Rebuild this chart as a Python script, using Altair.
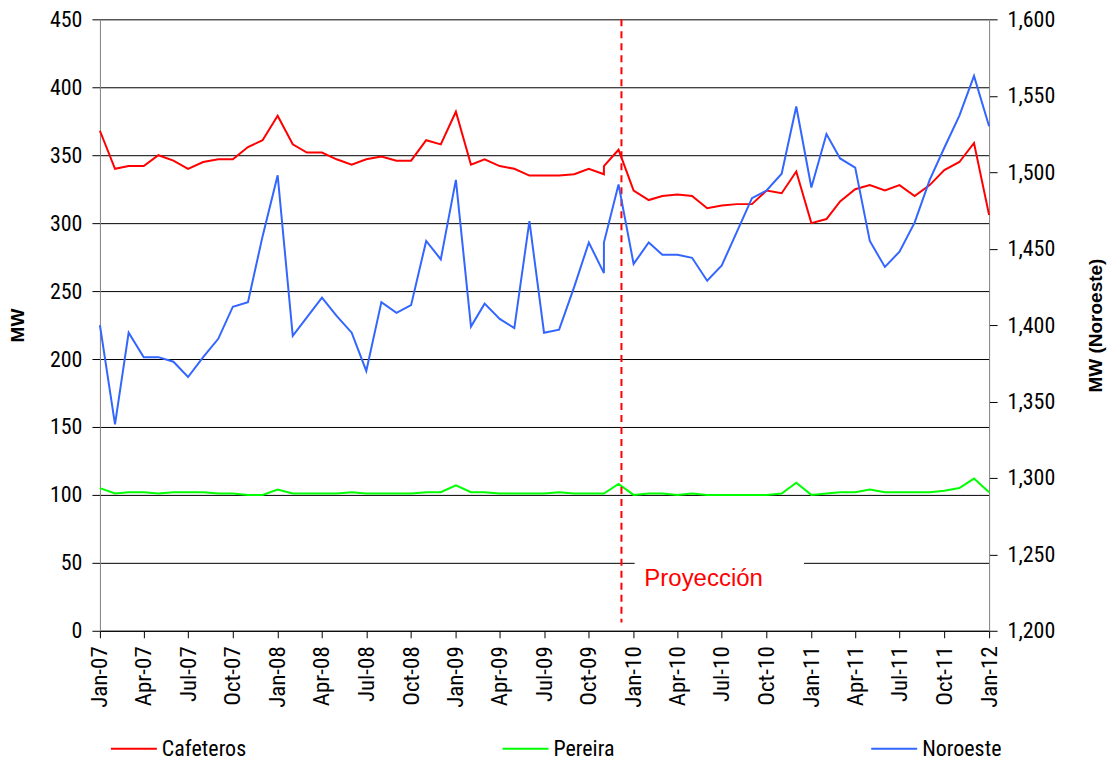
import altair as alt
import pandas as pd

dates = [
    "2007-01-01","2007-02-01","2007-03-01","2007-04-01","2007-05-01","2007-06-01",
    "2007-07-01","2007-08-01","2007-09-01","2007-10-01","2007-11-01","2007-12-01",
    "2008-01-01","2008-02-01","2008-03-01","2008-04-01","2008-05-01","2008-06-01",
    "2008-07-01","2008-08-01","2008-09-01","2008-10-01","2008-11-01","2008-12-01",
    "2009-01-01","2009-02-01","2009-03-01","2009-04-01","2009-05-01","2009-06-01",
    "2009-07-01","2009-08-01","2009-09-01","2009-10-01","2009-11-01","2009-11-01","2009-12-01",
    "2010-01-01","2010-02-01","2010-03-01","2010-04-01","2010-05-01","2010-06-01",
    "2010-07-01","2010-08-01","2010-09-01","2010-10-01","2010-11-01","2010-12-01",
    "2011-01-01","2011-02-01","2011-03-01","2011-04-01","2011-05-01","2011-06-01",
    "2011-07-01","2011-08-01","2011-09-01","2011-10-01","2011-11-01","2011-12-01",
    "2012-01-01",
]

cafeteros = [
    368, 340, 342, 342, 350, 346, 340, 345, 347, 347, 356, 361,
    379, 358, 352, 352, 347, 343, 347, 349, 346, 346, 361, 358,
    382, 343, 347, 342, 340, 335, 335, 335, 336, 340, 336, 342, 354,
    324, 317, 320, 321, 320, 311, 313, 314, 314, 324, 322, 338,
    300, 303, 316, 325, 328, 324, 328, 320, 328, 339, 345, 359,
    306,
]

pereira = [
    105, 101, 102, 102, 101, 102, 102, 102, 101, 101, 100, 100,
    104, 101, 101, 101, 101, 102, 101, 101, 101, 101, 102, 102,
    107, 102, 102, 101, 101, 101, 101, 102, 101, 101, 101, 101, 108,
    100, 101, 101, 100, 101, 100, 100, 100, 100, 100, 101, 109,
    100, 101, 102, 102, 104, 102, 102, 102, 102, 103, 105, 112,
    102,
]

noroeste = [
    1400, 1335, 1395, 1379, 1379, 1376, 1366, 1379, 1391, 1412, 1415, 1458,
    1498, 1393, 1405, 1418, 1406, 1395, 1370, 1415, 1408, 1413, 1455, 1443,
    1495, 1399, 1414, 1404, 1398, 1468, 1395, 1397, 1425, 1454, 1434, 1454, 1492,
    1440, 1454, 1446, 1446, 1444, 1429, 1439, 1461, 1483, 1488, 1499, 1543,
    1490, 1525, 1509, 1503, 1455, 1438, 1448, 1467, 1495, 1516, 1537, 1563,
    1530,
]

series_names = ["Cafeteros", "Pereira", "Noroeste"]
series_colors = ["#ff0000", "#00ff00", "#3366ff"]

left_ticks = [0, 50, 100, 150, 200, 250, 300, 350, 400, 450]
right_ticks = [1200, 1250, 1300, 1350, 1400, 1450, 1500, 1550, 1600]
tick_months = [(y, m) for y in range(2007, 2012) for m in (1, 4, 7, 10)] + [(2012, 1)]

projection_date = (2009, 12, 7)
projection_label = "Proyección"

NARROW = "Liberation Sans Narrow, Arial Narrow, Roboto Condensed, sans-serif"
SANS = "Liberation Sans, Arial, sans-serif"

rows_left = []
for i, d in enumerate(dates):
    rows_left.append({"date": d, "value": cafeteros[i], "series": "Cafeteros", "order": i})
    rows_left.append({"date": d, "value": pereira[i], "series": "Pereira", "order": i})
df_left = pd.DataFrame(rows_left)
df_right = pd.DataFrame({"date": dates, "value": noroeste, "series": "Noroeste",
                         "order": list(range(len(dates)))})

def dt(y, m, d=1):
    return alt.DateTime(year=y, month=m, date=d, utc=True)

x_scale = alt.Scale(type="utc", domain=[dt(2007, 1), dt(2012, 1)])
x_axis = alt.Axis(values=[dt(y, m) for y, m in tick_months], format="%b-%y",
                  labelAngle=270, labelAlign="right", labelBaseline="middle",
                  labelFont=NARROW, labelFontSize=23, labelPadding=8, tickSize=7,
                  grid=False, title=None, domainColor="#000000", labelColor="#000000",
                  labelOverlap=False, labelFlush=False)

color_scale = alt.Scale(domain=series_names, range=series_colors)
legend = alt.Legend(orient="none", legendX=10, legendY=706, direction="horizontal",
                    title=None, symbolType="stroke", symbolSize=2116, symbolStrokeWidth=2,
                    labelFont=NARROW, labelFontSize=22, labelColor="#000000",
                    columnPadding=252, labelOffset=4)

left_scale = alt.Scale(domain=[0, 450], nice=False, zero=False)
left_axis = alt.Axis(values=left_ticks, grid=True, gridColor="#000000", gridWidth=1,
                     orient="left", labelFont=NARROW, labelFontSize=22, labelPadding=10,
                     tickSize=8, domainColor="#808080", labelColor="#000000",
                     title="MW", titleFont=SANS, titleFontSize=19, titleFontWeight="bold",
                     titleAngle=270, titleX=-82, titleY=306, titleAlign="center",
                     titleBaseline="middle", labelFlush=False)

def left_y():
    return alt.Y("value:Q", scale=left_scale, axis=left_axis)

lines_left = alt.Chart(df_left).mark_line(strokeWidth=2).encode(
    x=alt.X("date:T", scale=x_scale, axis=x_axis),
    y=left_y(),
    color=alt.Color("series:N", scale=color_scale, legend=legend),
    order="order:Q",
)

rule = alt.Chart(pd.DataFrame({"value": [450], "value2": [6]})).mark_rule(
    color="#ff0000", strokeWidth=2, strokeDash=[7, 5]).encode(
    x=alt.datum(dt(*projection_date)),
    y=left_y(),
    y2="value2:Q",
)

mask = alt.Chart(pd.DataFrame({"value": [44], "value2": [56]})).mark_rect(color="white").encode(
    x=alt.datum(dt(2010, 1, 3)),
    x2=alt.datum(dt(2010, 12, 17)),
    y=left_y(),
    y2="value2:Q",
)

label = alt.Chart(pd.DataFrame({"value": [33], "t": [projection_label]})).mark_text(
    color="#ff0000", font=SANS, fontSize=24, align="left", baseline="alphabetic").encode(
    x=alt.datum(dt(2010, 1, 23)),
    y=left_y(),
    text="t:N",
)

left_group = alt.layer(lines_left, rule, mask, label)

line_right = alt.Chart(df_right).mark_line(strokeWidth=2).encode(
    x=alt.X("date:T", scale=x_scale, axis=x_axis),
    y=alt.Y("value:Q", scale=alt.Scale(domain=[1200, 1600], nice=False, zero=False),
            axis=alt.Axis(values=right_ticks, grid=False, orient="right", format=",.0f",
                          labelFont=NARROW, labelFontSize=22, labelPadding=10, tickSize=8,
                          domainColor="#808080", labelColor="#000000",
                          title="MW (Noroeste)", titleFont=SANS, titleFontSize=19,
                          titleFontWeight="bold", titleAngle=270, titleX=106, titleY=306,
                          titleAlign="center", titleBaseline="middle")),
    color=alt.Color("series:N", scale=color_scale, legend=legend),
    order="order:Q",
)

chart = alt.layer(left_group, line_right).resolve_scale(y="independent").properties(
    width=890, height=612,
    autosize=alt.AutoSizeParams(type="none"),
    padding={"left": 92, "top": 11, "right": 118, "bottom": 130},
    background="white",
).configure_view(stroke=None).configure_axis(tickColor="#000000")

chart.save("out.html", embed_options={"renderer": "svg", "actions": False})
